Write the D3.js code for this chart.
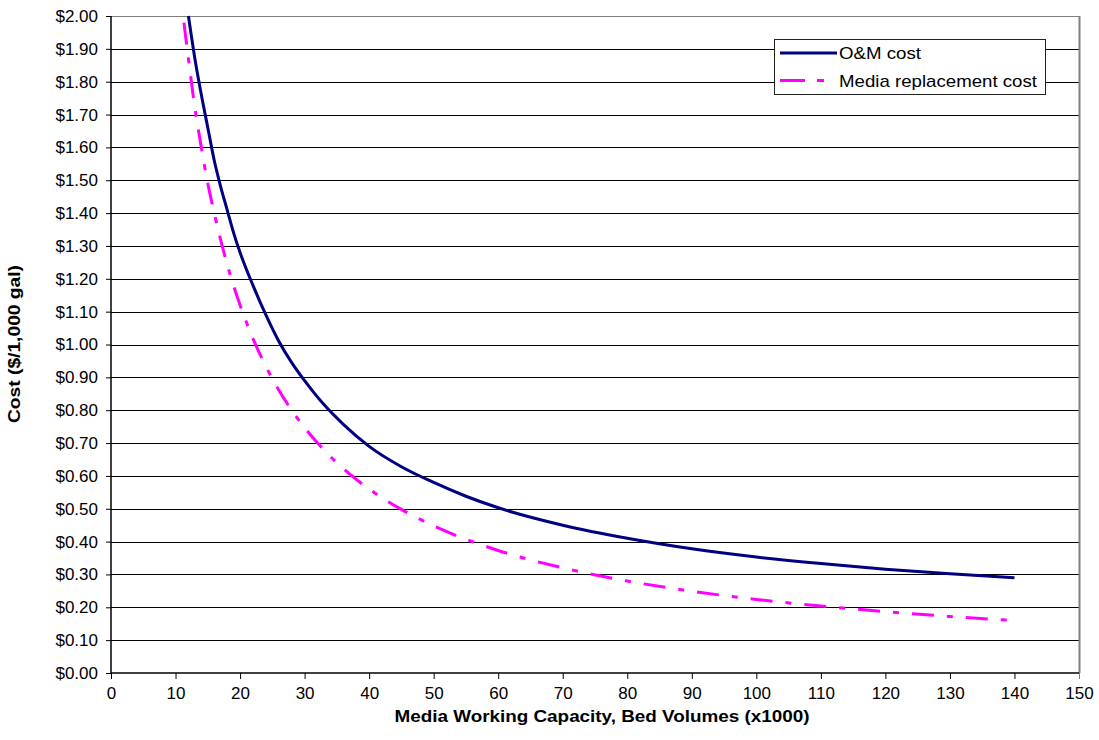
<!DOCTYPE html>
<html>
<head>
<meta charset="utf-8">
<script src="https://cdn.jsdelivr.net/npm/d3@7"></script>
<style>
  html, body { margin: 0; padding: 0; background: #fff; }
  svg { display: block; font-family: "Liberation Sans", Arial, sans-serif; }
</style>
</head>
<body>
<svg id="chart" width="1099" height="740"></svg>
<script>
// ---- Data ----
const omX    = [12, 13, 14, 15, 16, 17, 18, 19, 20, 22, 24, 26, 28, 30, 33, 36, 40, 45, 50, 55, 60, 70, 80, 90, 100, 110, 120, 130, 140];
const omCost = [2.00, 1.87, 1.76, 1.66, 1.56, 1.48, 1.41, 1.34, 1.28, 1.18, 1.09, 1.01, 0.945, 0.89, 0.817, 0.757, 0.69, 0.628, 0.58, 0.538, 0.503, 0.450, 0.410, 0.378, 0.353, 0.333, 0.316, 0.302, 0.290];
const mediaX    = [11.3, 12, 13, 14, 15, 16, 18, 20, 22, 25, 28, 30, 35, 40, 45, 50, 60, 70, 80, 90, 100, 110, 120, 130, 140];
const mediaCost = [1.98, 1.87, 1.72, 1.60, 1.49, 1.40, 1.244, 1.12, 1.018, 0.896, 0.80, 0.747, 0.64, 0.56, 0.498, 0.448, 0.373, 0.32, 0.28, 0.249, 0.224, 0.204, 0.187, 0.172, 0.16];
const xTicks = [0, 10, 20, 30, 40, 50, 60, 70, 80, 90, 100, 110, 120, 130, 140, 150];
const yTicks = [0, 0.1, 0.2, 0.3, 0.4, 0.5, 0.6, 0.7, 0.8, 0.9, 1.0, 1.1, 1.2, 1.3, 1.4, 1.5, 1.6, 1.7, 1.8, 1.9, 2.0];
const seriesNames = ["O&M cost", "Media replacement cost"];
const xTitle = "Media Working Capacity, Bed Volumes (x1000)";
const yTitle = "Cost ($/1,000 gal)";

// ---- Layout ----
const W = 1099, H = 740;
const m = { left: 111, right: 20, top: 16, bottom: 67 };
const pw = W - m.left - m.right, ph = H - m.top - m.bottom;

const svg = d3.select("#chart");
const g = svg.append("g").attr("transform", `translate(${m.left},${m.top})`);

const x = d3.scaleLinear().domain([0, 150]).range([0, pw]);
const y = d3.scaleLinear().domain([0, 2]).range([ph, 0]);

// gridlines
g.append("g").selectAll("line").data(yTicks.filter(d => d > 0)).join("line")
  .attr("x1", 0).attr("x2", pw)
  .attr("y1", d => Math.round(y(d)) + 0.5).attr("y2", d => Math.round(y(d)) + 0.5)
  .attr("stroke", d => d === 2 ? "#808080" : "#000").attr("stroke-width", 1);

// right border
g.append("line").attr("x1", pw + 0.5).attr("x2", pw + 0.5).attr("y1", 0).attr("y2", ph)
  .attr("stroke", "#808080").attr("stroke-width", 2);

// axes
const xAxis = g.append("g").attr("transform", `translate(0,${ph})`)
  .call(d3.axisBottom(x).tickValues(xTicks).tickSize(6).tickPadding(8).tickFormat(d3.format("d")));
const yAxis = g.append("g")
  .call(d3.axisLeft(y).tickValues(yTicks).tickSize(5).tickPadding(8).tickFormat(d => "$" + d.toFixed(2)));
[xAxis, yAxis].forEach(a => {
  a.select(".domain").attr("stroke", "#000").attr("stroke-width", 1.5);
  a.selectAll(".tick line").attr("stroke", "#000");
  a.selectAll("text").attr("font-size", 17).attr("fill", "#000")
    .attr("font-family", "'Liberation Sans', Arial, sans-serif");
});
xAxis.select(".domain").attr("d", `M0,0H${pw}`);
yAxis.select(".domain").attr("d", `M0,0V${ph}`);
xAxis.selectAll(".tick").filter(d => d === 150).select("line").attr("stroke", "#808080");

// lines
const line = d3.line().x(d => x(d[0])).y(d => y(d[1])).curve(d3.curveMonotoneX);
const omData = omX.map((v, i) => [v, omCost[i]]);
const mediaData = mediaX.map((v, i) => [v, mediaCost[i]]);

g.append("path").datum(mediaData).attr("d", line)
  .attr("fill", "none").attr("stroke", "#FF00FF").attr("stroke-width", 3)
  .attr("stroke-dasharray", "22,13,6,13");
g.append("path").datum(omData).attr("d", line)
  .attr("fill", "none").attr("stroke", "#000080").attr("stroke-width", 3);

// legend
const lg = svg.append("g").attr("transform", "translate(774,39)");
lg.append("rect").attr("x", 0.5).attr("y", 0.5).attr("width", 271).attr("height", 55)
  .attr("fill", "#fff").attr("stroke", "#222").attr("stroke-width", 1);
const styles = [
  { stroke: "#000080", dash: null },
  { stroke: "#FF00FF", dash: "25,12,7,20" }
];
const legendWidths = [82, 198];
seriesNames.forEach((name, i) => {
  const cy = 14 + i * 27.5;
  lg.append("line").attr("x1", 6).attr("x2", 63).attr("y1", cy).attr("y2", cy)
    .attr("stroke", styles[i].stroke).attr("stroke-width", 3)
    .attr("stroke-dasharray", styles[i].dash);
  lg.append("text").attr("x", 65).attr("y", cy + 6).attr("font-size", 17).attr("fill", "#000")
    .attr("textLength", legendWidths[i]).attr("lengthAdjust", "spacingAndGlyphs")
    .text(name);
});

// axis titles
svg.append("text").attr("x", 602).attr("y", 722).attr("text-anchor", "middle")
  .attr("font-size", 16).attr("font-weight", "bold").attr("fill", "#000")
  .attr("textLength", 415).attr("lengthAdjust", "spacingAndGlyphs").text(xTitle);
svg.append("text").attr("transform", "translate(20,344) rotate(-90)").attr("text-anchor", "middle")
  .attr("font-size", 16).attr("font-weight", "bold").attr("fill", "#000")
  .attr("textLength", 158).attr("lengthAdjust", "spacingAndGlyphs").text(yTitle);
</script>
</body>
</html>
